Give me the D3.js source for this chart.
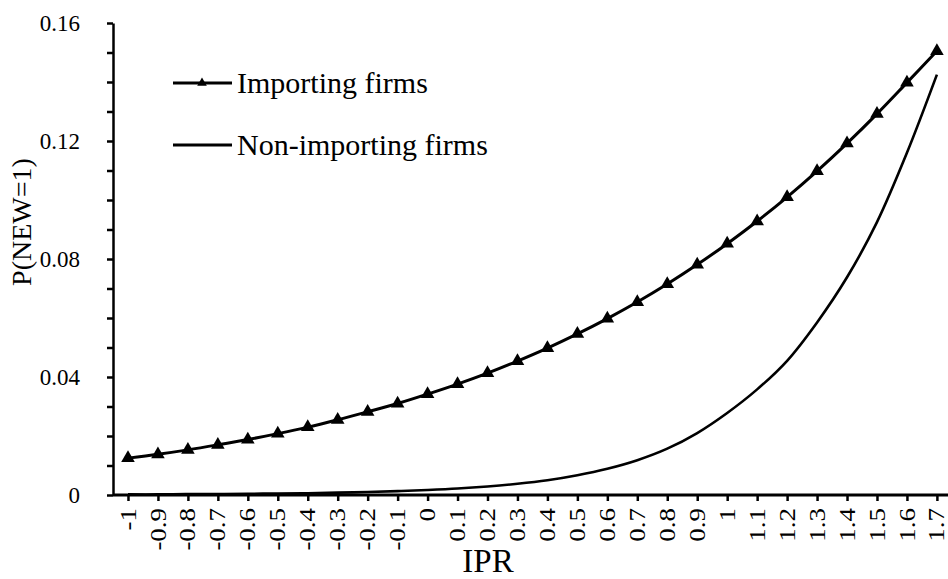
<!DOCTYPE html>
<html>
<head>
<meta charset="utf-8">
<script src="https://cdn.jsdelivr.net/npm/d3@7"></script>
<style>
  body { margin: 0; background: #fff; }
  svg { display: block; }
  svg text { font-family: "Liberation Serif", "Times New Roman", serif; }
</style>
</head>
<body>
<svg id="chart"></svg>
<script>
const ipr = [-1, -0.9, -0.8, -0.7, -0.6, -0.5, -0.4, -0.3, -0.2, -0.1, 0, 0.1, 0.2, 0.3,
  0.4, 0.5, 0.6, 0.7, 0.8, 0.9, 1, 1.1, 1.2, 1.3, 1.4, 1.5, 1.6, 1.7];

const importing = [0.0125, 0.0138, 0.0153, 0.0170, 0.0188, 0.0208, 0.0230, 0.0255, 0.0282,
  0.0310, 0.0342, 0.0376, 0.0413, 0.0454, 0.0498, 0.0546, 0.0598, 0.0654, 0.0715, 0.0781,
  0.0852, 0.0928, 0.1010, 0.1098, 0.1192, 0.1292, 0.1398, 0.1505];

const nonImporting = [0.0002, 0.0002, 0.0003, 0.0003, 0.0004, 0.0005, 0.0006, 0.0008, 0.0010,
  0.0013, 0.0017, 0.0022, 0.0029, 0.0038, 0.0050, 0.0067, 0.0089, 0.0118, 0.0157, 0.0210,
  0.0278, 0.0358, 0.0455, 0.0585, 0.0738, 0.0925, 0.1160, 0.1425];

const yTicks = [0, 0.01, 0.02, 0.03, 0.04, 0.05, 0.06, 0.07, 0.08, 0.09, 0.10, 0.11, 0.12,
  0.13, 0.14, 0.15, 0.16];
const yLabelTicks = [0, 0.04, 0.08, 0.12, 0.16];

const seriesNames = ['Importing firms', 'Non-importing firms'];

const dim = { w: 948, h: 579, left: 113, top: 23, bottom: 495, step: 29.96 };
const serif = '"Liberation Serif", "Times New Roman", serif';

const $svg = d3.select('#chart')
  .attr('width', dim.w)
  .attr('height', dim.h)
  .attr('viewBox', '0 0 ' + dim.w + ' ' + dim.h);

const xScale = d3.scalePoint()
    .domain(ipr.map(String))
    .range([dim.left, dim.left + ipr.length * dim.step])
    .padding(0.5),
  yScale = d3.scaleLinear()
    .domain([0, 0.16])
    .range([dim.bottom, dim.top]);

// y axis
const yAxis = $svg.append('g')
  .attr('transform', 'translate(' + dim.left + ',0)')
  .call(d3.axisLeft(yScale)
    .tickValues(yTicks)
    .tickSize(6)
    .tickSizeOuter(0)
    .tickPadding(27)
    .tickFormat((d) => yLabelTicks.some((t) => Math.abs(t - d) < 1e-9) ? (d === 0 ? '0' : d3.format('.2f')(d)) : ''))
  .attr('font-family', serif)
  .attr('font-size', 23);
yAxis.select('.domain').attr('stroke', '#000').attr('stroke-width', 2.5);
yAxis.selectAll('.tick line').attr('stroke', '#000').attr('stroke-width', 2.5);
yAxis.selectAll('.tick text').attr('fill', '#000');

// x axis
const xAxis = $svg.append('g')
  .attr('transform', 'translate(0,' + dim.bottom + ')')
  .call(d3.axisBottom(xScale).tickSize(6).tickSizeOuter(0).tickFormat(''));
xAxis.select('.domain').attr('stroke', '#000').attr('stroke-width', 3)
  .attr('d', 'M' + dim.left + ',0H' + dim.w);
xAxis.selectAll('.tick line').attr('stroke', '#000').attr('stroke-width', 2.5);

$svg.append('g')
  .attr('font-family', serif)
  .selectAll('text')
  .data(ipr)
  .enter()
  .append('text')
  .attr('transform', (d) => 'translate(' + xScale(String(d)) + ',' + (dim.bottom + 13) + ') rotate(-90) scale(1.17,1)')
  .attr('text-anchor', 'end')
  .attr('dy', '0.33em')
  .attr('font-size', 23)
  .attr('fill', '#000')
  .text((d) => String(d));

// axis titles
$svg.append('text')
  .attr('transform', 'translate(31,222) rotate(-90)')
  .attr('text-anchor', 'middle')
  .attr('font-size', 28)
  .attr('fill', '#000')
  .text('P(NEW=1)');

$svg.append('text')
  .attr('x', 488)
  .attr('y', 572)
  .attr('text-anchor', 'middle')
  .attr('font-size', 33)
  .attr('fill', '#000')
  .text('IPR');

// lines
const line = d3.line()
  .x((d, i) => xScale(String(ipr[i])))
  .y((d) => yScale(d))
  .curve(d3.curveCatmullRom.alpha(0.5));

$svg.append('path')
  .datum(nonImporting)
  .attr('d', line)
  .attr('fill', 'none')
  .attr('stroke', '#000')
  .attr('stroke-width', 2.6);

$svg.append('path')
  .datum(importing)
  .attr('d', line)
  .attr('fill', 'none')
  .attr('stroke', '#000')
  .attr('stroke-width', 3);

const tri = d3.symbol().type(d3.symbolTriangle).size(80);
$svg.append('g').selectAll('path')
  .data(importing)
  .enter()
  .append('path')
  .attr('d', tri)
  .attr('transform', (d, i) => 'translate(' + xScale(String(ipr[i])) + ',' + yScale(d) + ')')
  .attr('fill', '#000');

// legend
const legend = $svg.append('g');
const legendRows = [{ y: 83, marker: true }, { y: 145, marker: false }];
legendRows.forEach((row, i) => {
  legend.append('line')
    .attr('x1', 173).attr('x2', 232)
    .attr('y1', row.y).attr('y2', row.y)
    .attr('stroke', '#000')
    .attr('stroke-width', 3);
  if (row.marker) {
    legend.append('path')
      .attr('d', d3.symbol().type(d3.symbolTriangle).size(40))
      .attr('transform', 'translate(202,' + row.y + ')')
      .attr('fill', '#000');
  }
  legend.append('text')
    .attr('x', 237)
    .attr('y', row.y + 10)
    .attr('font-size', 30)
    .attr('fill', '#000')
    .text(seriesNames[i]);
});
</script>
</body>
</html>
